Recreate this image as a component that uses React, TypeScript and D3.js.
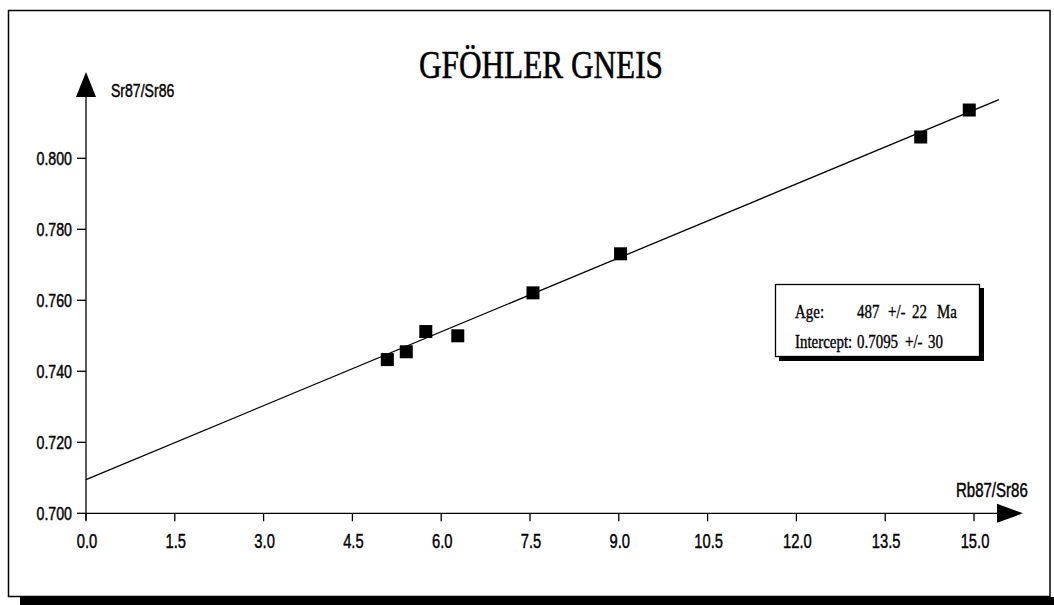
import React from "react";
import * as d3 from "d3";

// Rb-Sr whole-rock isochron, Gföhl gneiss
const rbSr: number[] = [5.09, 5.41, 5.74, 6.28, 7.55, 9.03, 14.1, 14.92];
const srSr: number[] = [0.7433, 0.7455, 0.7512, 0.75, 0.7621, 0.7731, 0.806, 0.8136];
const xTicks: number[] = [0, 1.5, 3, 4.5, 6, 7.5, 9, 10.5, 12, 13.5, 15];
const yTicks: number[] = [0.7, 0.72, 0.74, 0.76, 0.78, 0.8];

const ageMa = 487;
const ageErr = 22;
const intercept = 0.7095;
const interceptErr = 30;
const lambdaRb = 1.42e-11; // 87Rb decay constant, 1/yr
const lineEndX = 15.42;

const W = 1054;
const H = 605;

export default function App() {
  const x = d3.scaleLinear().domain([0, 15]).range([86, 974]);
  const y = d3.scaleLinear().domain([0.7, 0.8]).range([513.3, 158.3]);

  const slope = Math.exp(lambdaRb * ageMa * 1e6) - 1;
  const isochron = d3
    .line<number>()
    .x((d) => x(d))
    .y((d) => y(intercept + slope * d));

  const sans = "'Liberation Sans', Arial, sans-serif";
  const serif = "'Liberation Serif', 'Times New Roman', serif";
  const ms = 13; // marker size
  const heavy = { stroke: "#000", strokeWidth: 0.45 };

  const x0 = x(0);
  const y0 = y(0.7);

  return (
    <svg
      width={W}
      height={H}
      viewBox={`0 0 ${W} ${H}`}
      style={{ position: "absolute", left: 0, top: 0, display: "block", background: "#fff" }}
    >
      <rect x={0} y={0} width={W} height={H} fill="#fff" />

      {/* frame with heavy bottom edge */}
      <rect x={20} y={597} width={W - 20} height={8} fill="#000" />
      <rect x={8.5} y={10.5} width={1041.5} height={586} fill="none" stroke="#000" strokeWidth={1.5} />

      {/* title */}
      <text
        x={541}
        y={78}
        textAnchor="middle"
        fontFamily={serif}
        fontSize={41}
        textLength={244}
        lengthAdjust="spacingAndGlyphs"
        fill="#000"
        {...heavy}
        strokeWidth={0.6}
      >
        GFÖHLER GNEIS
      </text>

      {/* y axis */}
      <line x1={x0} x2={x0} y1={y0 + 7} y2={97} stroke="#000" strokeWidth={1.3} />
      <path d={`M${x0 - 10},97 L${x0 + 10},97 L${x0},72 Z`} fill="#000" />
      {yTicks.map((t) => (
        <g key={`yt${t}`}>
          <line x1={x0 - 9} x2={x0} y1={y(t)} y2={y(t)} stroke="#000" strokeWidth={1.3} />
          <text
            transform={`translate(72,${y(t) + 6.5}) scale(0.81,1)`}
            textAnchor="end"
            fontFamily={sans}
            fontSize={17.5}
            fill="#000"
            {...heavy}
          >
            {d3.format(".3f")(t)}
          </text>
        </g>
      ))}
      <text
        transform="translate(111,97) scale(0.74,1)"
        fontFamily={sans}
        fontSize={19}
        fill="#000"
        {...heavy}
      >
        Sr87/Sr86
      </text>

      {/* x axis */}
      <line x1={x0} x2={997} y1={y0} y2={y0} stroke="#000" strokeWidth={1.3} />
      <path d={`M997,${y0 - 9.5} L997,${y0 + 9.5} L1023,${y0} Z`} fill="#000" />
      {xTicks.map((t) => (
        <g key={`xt${t}`}>
          <line x1={x(t)} x2={x(t)} y1={y0} y2={y0 + 8} stroke="#000" strokeWidth={1.3} />
          <text
            transform={`translate(${x(t) + 1},548) scale(0.72,1)`}
            textAnchor="middle"
            fontFamily={sans}
            fontSize={20.5}
            fill="#000"
            {...heavy}
          >
            {d3.format(".1f")(t)}
          </text>
        </g>
      ))}
      <text
        transform="translate(956,497) scale(0.77,1)"
        fontFamily={sans}
        fontSize={19.5}
        fill="#000"
        {...heavy}
      >
        Rb87/Sr86
      </text>

      {/* isochron */}
      <path d={isochron([0, lineEndX]) ?? ""} fill="none" stroke="#000" strokeWidth={1.3} />

      {/* samples */}
      {rbSr.map((v, i) => (
        <rect
          key={`p${i}`}
          x={x(v) - ms / 2}
          y={y(srSr[i]) - ms / 2}
          width={ms}
          height={ms}
          fill="#000"
        />
      ))}

      {/* result box */}
      <rect x={779} y={288} width={205} height={73} fill="#000" />
      <rect x={775.5} y={284.5} width={204} height={72} fill="#fff" stroke="#000" strokeWidth={1.3} />
      <g fontFamily={serif} fontSize={18} fill="#000" stroke="#000" strokeWidth={0.35}>
        <text transform="translate(795,318) scale(0.83,1)">Age:</text>
        <text transform="translate(857,318) scale(0.83,1)">{ageMa}</text>
        <text transform="translate(888,318) scale(0.83,1)">+/-</text>
        <text transform="translate(912,318) scale(0.83,1)">{ageErr}</text>
        <text transform="translate(937,318) scale(0.83,1)">Ma</text>
        <text transform="translate(795,348) scale(0.83,1)">Intercept:</text>
        <text transform="translate(857,348) scale(0.83,1)">{intercept.toFixed(4)}</text>
        <text transform="translate(905,348) scale(0.83,1)">+/-</text>
        <text transform="translate(928,348) scale(0.83,1)">{interceptErr}</text>
      </g>
    </svg>
  );
}
